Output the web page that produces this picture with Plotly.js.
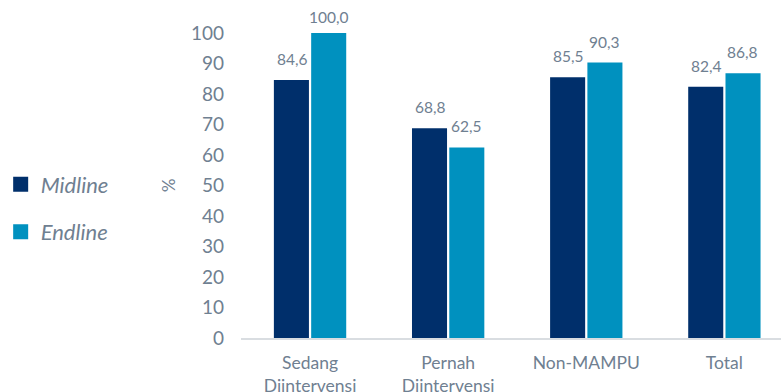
<!DOCTYPE html>
<html><head><meta charset="utf-8">
<script src="https://cdn.plot.ly/plotly-3.0.1.min.js"></script>
<style>html,body{margin:0;padding:0;background:#fff}</style>
</head><body><div id="chart" style="width:781px;height:392px"></div>
<script>
const categories = ["Sedang<br>Diintervensi", "Pernah<br>Diintervensi", "Non-MAMPU", "Total"];
const midline = [84.6, 68.8, 85.5, 82.4];
const endline = [100.0, 62.5, 90.3, 86.8];
const yTicks = [0,10,20,30,40,50,60,70,80,90,100];

const gray = "#6f8091";
const font = "Lato, 'Open Sans', sans-serif";

const traces = [
  {type:"bar", name:"Midline", x:categories, y:midline, marker:{color:"#002f6b"}, legendgroup:"a", hoverinfo:"none"},
  {type:"bar", name:"Endline", x:categories, y:endline, marker:{color:"#0091bf"}, legendgroup:"b", hoverinfo:"none"}
];

const fmt = v => v.toFixed(1).replace(".", ",");
const annotations = [];
categories.forEach((c,i)=>{
  annotations.push({x:c, y:midline[i], xref:"x", yref:"y", text:fmt(midline[i]), showarrow:false, xshift:-18, yshift:21, font:{family:font,size:15.5,color:gray}});
  annotations.push({x:c, y:endline[i], xref:"x", yref:"y", text:fmt(endline[i]), showarrow:false, xshift:18, yshift:Math.min(21, 16 + (100-endline[i])), font:{family:font,size:15.5,color:gray}});
});
annotations.push({xref:"paper", yref:"paper", x:(165-237.5)/543.5, xanchor:"center", y:0.5, yanchor:"middle", text:"%", textangle:90, showarrow:false, font:{family:font,size:17,color:gray}});

const layout = {
  width:781, height:392,
  margin:{l:235, r:0, t:33, b:54},
  paper_bgcolor:"#fff", plot_bgcolor:"#fff",
  separators:",.",
  barmode:"group", bargap:0.46, bargroupgap:0.06,
  showlegend:true,
  legend:{x:(-8-235)/546, xanchor:"left", y:0.425, yanchor:"middle", font:{family:font,size:22,color:gray}, tracegroupgap:16, itemwidth:30},
  xaxis:{type:"category", range:[-0.5, 3.41], showline:true, linecolor:"#d9dde1", linewidth:2, ticks:"", tickfont:{family:font,size:17.5,color:gray}, ticklabelstandoff:8, fixedrange:true},
  yaxis:{range:[0,100], tickvals:yTicks, showgrid:false, zeroline:false, showline:false, tickfont:{family:font,size:19,color:gray}, ticklabelstandoff:16, fixedrange:true},
  annotations:annotations
};
Plotly.newPlot("chart", traces, layout, {displayModeBar:false, staticPlot:true}).then(()=>{
  document.querySelectorAll(".legendtext").forEach(t=>t.style.fontStyle="italic");
  document.querySelectorAll(".legendpoints path").forEach(p=>p.setAttribute("d","M7.5,7.5H-7.5V-7.5H7.5Z"));
});
</script></body></html>
